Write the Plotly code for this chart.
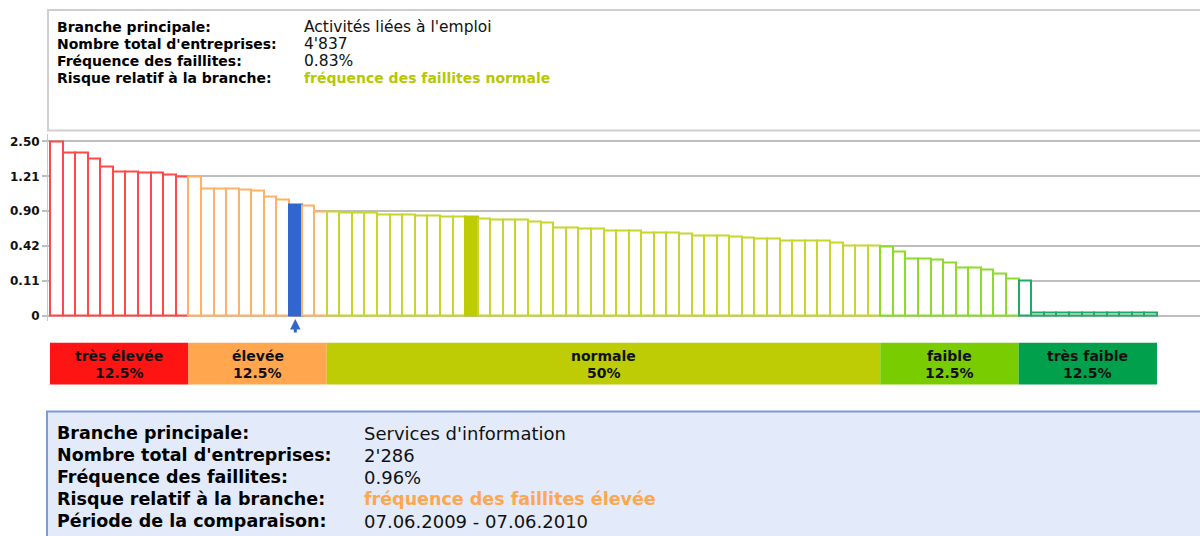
import numpy as np
import plotly.graph_objects as go

# ---------------- data ----------------
tick_values = [0, 0.11, 0.42, 0.90, 1.21, 2.50]
tick_labels = ["0", "0.11", "0.42", "0.90", "1.21", "2.50"]

freq_tres_elevee = [2.50, 2.09, 2.09, 1.88, 1.58, 1.40, 1.40, 1.34, 1.34, 1.27, 1.22]
freq_elevee = [1.21, 1.10, 1.10, 1.10, 1.09, 1.08, 1.03, 1.00, 0.96, 0.95, 0.90]
freq_normale = [0.90, 0.88, 0.88, 0.88, 0.86, 0.86, 0.86, 0.84, 0.84, 0.83, 0.83,
                0.83, 0.80, 0.78, 0.78, 0.78, 0.76, 0.75, 0.68, 0.68, 0.66, 0.66,
                0.63, 0.63, 0.63, 0.61, 0.61, 0.61, 0.59, 0.57, 0.57, 0.57, 0.55,
                0.54, 0.52, 0.52, 0.49, 0.49, 0.49, 0.49, 0.47, 0.43, 0.43, 0.43]
freq_faible = [0.42, 0.37, 0.31, 0.31, 0.30, 0.27, 0.23, 0.23, 0.21, 0.18, 0.13]
freq_tres_faible = [0.11, 0.01, 0.01, 0.01, 0.01, 0.01, 0.01, 0.01, 0.01, 0.01, 0.01]

categories = ["très élevée", "élevée", "normale", "faible", "très faible"]
shares = ["12.5%", "12.5%", "50%", "12.5%", "12.5%"]
band_colors = ["#FF1414", "#FFA64F", "#BDCC04", "#78CC00", "#00A04C"]
outline_colors = ["#FF4848", "#FFB267", "#C8D52C", "#8CDB2C", "#1FAA66"]

# ranks (0-based) of the two highlighted branches
rank_services_information = 19      # 0.96 %, blue, with arrow
rank_activites_emploi = 33          # 0.83 %, filled

info_top_labels = ["Branche principale:", "Nombre total d'entreprises:",
                   "Fréquence des faillites:", "Risque relatif à la branche:"]
info_top_values = ["Activités liées à l'emploi", "4'837", "0.83%",
                   "fréquence des faillites normale"]
info_bottom_labels = ["Branche principale:", "Nombre total d'entreprises:",
                      "Fréquence des faillites:", "Risque relatif à la branche:",
                      "Période de la comparaison:"]
info_bottom_values = ["Services d'information", "2'286", "0.96%",
                      "fréquence des faillites élevée", "07.06.2009 - 07.06.2010"]

# ---------------- build ----------------
groups = [freq_tres_elevee, freq_elevee, freq_normale, freq_faible, freq_tres_faible]
values = np.concatenate(groups)
n = len(values)
positions = np.interp(values, tick_values, np.arange(len(tick_values)))

line_cols, fill_cols = [], []
for g, col in zip(groups, outline_colors):
    line_cols += [col] * len(g)
    fill_cols += ["#FFFFFF"] * len(g)
fill_cols[rank_services_information] = "#3366CC"
line_cols[rank_services_information] = "#3366CC"
fill_cols[rank_activites_emploi] = band_colors[2]
line_cols[rank_activites_emploi] = band_colors[2]

W, H = 1200, 536

def px(p):
    return p / W

def py(p):
    return 1 - p / H

bar_px = 1107 / n
x_left_px, x0_px = 48, 50
xrange_ = [-(x0_px - x_left_px) / bar_px, (W - x0_px) / bar_px]
unit_px = 35.0
y_top_px, y_bot_px, y_zero_px = 134, 322, 317
yrange_ = [-(y_bot_px - y_zero_px) / unit_px, (y_zero_px - y_top_px) / unit_px]

fig = go.Figure()
fig.add_trace(go.Bar(
    x=np.arange(n) + 0.5, y=positions, width=1,
    marker=dict(color=fill_cols, line=dict(color=line_cols, width=2)),
    customdata=values, hovertemplate="%{customdata:.2f}%<extra></extra>",
    showlegend=False,
))

shapes = []
shapes.append(dict(type="rect", xref="paper", yref="paper", x0=px(48), x1=1.01,
                   y0=py(131), y1=py(10), line=dict(color="#CFCFCF", width=2),
                   fillcolor="#FFFFFF", layer="below"))
shapes.append(dict(type="rect", xref="paper", yref="paper", x0=px(47), x1=1.01,
                   y0=-0.02, y1=py(413), line=dict(color="#7A9ADA", width=2),
                   fillcolor="#E3EBFA", layer="below"))

annotations = []
start = 0
for g, cat, share, col in zip(groups, categories, shares, band_colors):
    end = start + len(g)
    shapes.append(dict(type="rect", xref="x", yref="paper", x0=start, x1=end,
                       y0=py(386), y1=py(344), line=dict(width=0), fillcolor=col))
    for txt, ypx in ((cat, 357), (share, 374)):
        annotations.append(dict(xref="x", yref="paper", x=(start + end) / 2, y=py(ypx),
                                text="<b>" + txt + "</b>", showarrow=False,
                                font=dict(family="DejaVu Sans", size=14, color="#111111"),
                                xanchor="center", yanchor="middle"))
    start = end

annotations.append(dict(xref="x", yref="y", x=rank_services_information + 0.5,
                        y=-0.09, ax=0, ay=15, text="", showarrow=True,
                        arrowhead=2, arrowsize=0.7, arrowwidth=3, arrowcolor="#3366CC"))

for i, (lab, val) in enumerate(zip(info_top_labels, info_top_values)):
    ypx = 27 + 17 * i
    annotations.append(dict(xref="paper", yref="paper", x=px(55), y=py(ypx),
                            text="<b>" + lab + "</b>", showarrow=False,
                            xanchor="left", yanchor="middle",
                            font=dict(family="DejaVu Sans", size=14, color="#000000")))
    col = "#B5C800" if i == 3 else "#111111"
    txt = "<b>" + val + "</b>" if i == 3 else val
    annotations.append(dict(xref="paper", yref="paper", x=px(302), y=py(ypx),
                            text=txt, showarrow=False, xanchor="left", yanchor="middle",
                            font=dict(family="DejaVu Sans", size=14 if i == 3 else 15.5,
                                      color=col)))

for i, (lab, val) in enumerate(zip(info_bottom_labels, info_bottom_values)):
    ypx = 435 + 22 * i
    annotations.append(dict(xref="paper", yref="paper", x=px(55), y=py(ypx),
                            text="<b>" + lab + "</b>", showarrow=False,
                            xanchor="left", yanchor="middle",
                            font=dict(family="DejaVu Sans", size=17.5, color="#000000")))
    col = "#FFA64F" if i == 3 else "#111111"
    txt = "<b>" + val + "</b>" if i == 3 else val
    annotations.append(dict(xref="paper", yref="paper", x=px(362), y=py(ypx),
                            text=txt, showarrow=False, xanchor="left", yanchor="middle",
                            font=dict(family="DejaVu Sans", size=17.5 if i == 3 else 18,
                                      color=col)))

fig.update_layout(
    width=W, height=H,
    margin=dict(l=0, r=0, t=0, b=0),
    paper_bgcolor="#FFFFFF", plot_bgcolor="rgba(0,0,0,0)",
    bargap=0,
    xaxis=dict(domain=[px(x_left_px), 1], range=xrange_, showgrid=False,
               showticklabels=False, zeroline=False, showline=False, ticks=""),
    yaxis=dict(domain=[py(y_bot_px), py(y_top_px)], range=yrange_,
               tickmode="array", tickvals=list(range(len(tick_values))),
               ticktext=["<b>" + t + "</b>" for t in tick_labels],
               tickfont=dict(family="DejaVu Sans", size=12, color="#111111"),
               showgrid=True, gridcolor="#BEBEBE", gridwidth=2, zeroline=False,
               showline=True, linecolor="#C8C8C8", linewidth=1,
               ticks="outside", ticklen=5, tickcolor="#BEBEBE", tickwidth=2),
    shapes=shapes, annotations=annotations,
    hovermode="closest",
)

fig.write_html(
    "out.html",
    config={"displayModeBar": False},
    post_script="document.body.style.margin='0';document.body.style.overflow='hidden';",
)
